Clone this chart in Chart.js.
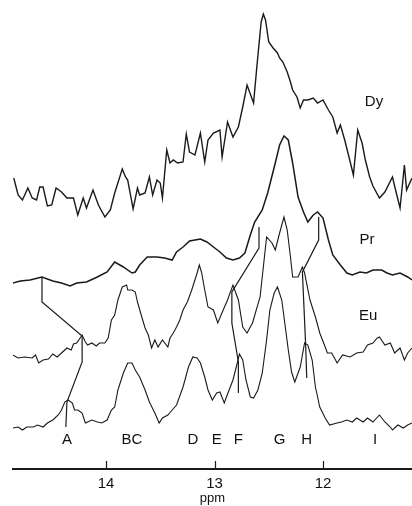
<!DOCTYPE html>
<html>
<head>
<meta charset="utf-8">
<script src="https://cdn.jsdelivr.net/npm/chart.js@4.4.1/dist/chart.umd.min.js"></script>
<style>
  html, body { margin: 0; padding: 0; background: #fff; }
  #wrap { width: 412px; height: 506px; }
</style>
</head>
<body>
<div id="wrap"><canvas id="nmr"></canvas></div>
<script>
// Spectra: [ppm, intensity] (intensity includes the stacking offset)
const dySpectrum = [[14.85,291],[14.81,274],[14.77,269],[14.72,281],[14.68,271],[14.64,269],[14.61,282],[14.58,282],[14.54,263],[14.50,264],[14.46,281],[14.41,277],[14.36,271],[14.30,271],[14.26,254],[14.21,271],[14.18,261],[14.12,279],[14.07,264],[14.01,252],[13.96,259],[13.92,276],[13.85,300],[13.82,292],[13.80,289],[13.75,260],[13.71,281],[13.69,274],[13.64,276],[13.60,292],[13.57,274],[13.53,289],[13.50,286],[13.48,271],[13.44,319],[13.41,306],[13.38,309],[13.34,306],[13.29,307],[13.26,335],[13.23,317],[13.18,314],[13.13,336],[13.09,307],[13.06,329],[13.01,336],[12.95,339],[12.93,312],[12.88,347],[12.83,332],[12.78,342],[12.74,362],[12.70,384],[12.65,369],[12.64,366],[12.61,402],[12.57,447],[12.55,455],[12.53,449],[12.50,427],[12.46,421],[12.42,416],[12.40,411],[12.37,407],[12.33,397],[12.30,387],[12.28,379],[12.24,372],[12.21,361],[12.18,369],[12.14,369],[12.09,371],[12.05,366],[12.00,369],[11.95,359],[11.91,352],[11.87,336],[11.84,344],[11.80,329],[11.77,316],[11.72,294],[11.68,339],[11.64,326],[11.61,309],[11.57,292],[11.54,283],[11.48,271],[11.43,277],[11.36,292],[11.32,274],[11.29,261],[11.25,304],[11.23,279],[11.18,291]];

const prSpectrum = [[14.86,186],[14.79,188],[14.70,189],[14.59,192],[14.49,188],[14.41,186],[14.33,183],[14.27,186],[14.18,187],[14.08,192],[13.99,197],[13.92,207],[13.84,202],[13.76,196],[13.73,197],[13.69,204],[13.62,212],[13.53,212],[13.46,211],[13.39,209],[13.35,217],[13.29,222],[13.23,228],[13.13,230],[13.07,227],[13.01,222],[12.95,217],[12.89,211],[12.83,209],[12.77,211],[12.72,216],[12.67,234],[12.63,247],[12.56,259],[12.51,276],[12.44,306],[12.40,324],[12.36,333],[12.32,329],[12.28,306],[12.23,272],[12.18,257],[12.14,247],[12.09,254],[12.05,257],[12.00,251],[11.95,229],[11.91,214],[11.84,204],[11.78,196],[11.73,194],[11.66,197],[11.60,196],[11.54,199],[11.46,199],[11.41,196],[11.36,194],[11.29,196],[11.22,192],[11.18,189]];

const euSpectrum = [[14.86,114],[14.81,111],[14.75,112],[14.68,111],[14.65,114],[14.62,106],[14.58,109],[14.53,110],[14.49,115],[14.45,112],[14.41,116],[14.36,121],[14.32,119],[14.30,125],[14.27,126],[14.22,134],[14.19,127],[14.17,124],[14.13,126],[14.09,123],[14.06,126],[14.01,126],[13.98,131],[13.95,149],[13.92,154],[13.89,169],[13.85,182],[13.81,184],[13.80,179],[13.76,179],[13.73,177],[13.71,167],[13.67,152],[13.64,141],[13.61,134],[13.58,121],[13.55,129],[13.52,122],[13.48,129],[13.43,122],[13.41,131],[13.38,136],[13.35,142],[13.32,149],[13.29,159],[13.25,167],[13.21,179],[13.16,196],[13.14,204],[13.12,197],[13.09,179],[13.06,162],[13.01,159],[12.97,146],[12.92,159],[12.88,169],[12.83,184],[12.78,169],[12.74,142],[12.70,136],[12.65,146],[12.58,172],[12.55,202],[12.52,232],[12.47,226],[12.44,219],[12.40,236],[12.36,252],[12.33,239],[12.30,212],[12.28,192],[12.23,192],[12.19,202],[12.17,196],[12.12,169],[12.07,152],[12.03,136],[11.98,122],[11.96,116],[11.92,116],[11.87,106],[11.82,114],[11.75,112],[11.69,116],[11.63,117],[11.59,124],[11.54,126],[11.50,131],[11.48,132],[11.43,124],[11.38,126],[11.34,116],[11.29,121],[11.25,109],[11.22,116],[11.18,121]];

const refSpectrum = [[14.86,41],[14.81,42],[14.77,39],[14.73,42],[14.67,42],[14.63,44],[14.58,42],[14.54,46],[14.49,49],[14.44,54],[14.41,59],[14.38,67],[14.35,69],[14.31,66],[14.29,59],[14.26,59],[14.22,56],[14.19,46],[14.17,47],[14.13,49],[14.08,47],[14.04,46],[13.99,49],[13.95,59],[13.92,62],[13.89,79],[13.84,96],[13.80,106],[13.76,106],[13.73,99],[13.69,92],[13.64,79],[13.60,67],[13.55,56],[13.51,46],[13.48,51],[13.43,54],[13.39,59],[13.35,64],[13.29,82],[13.24,102],[13.20,112],[13.16,111],[13.13,106],[13.09,92],[13.06,79],[13.02,69],[12.98,76],[12.95,77],[12.91,66],[12.89,72],[12.83,89],[12.79,106],[12.77,115],[12.74,109],[12.71,89],[12.67,72],[12.64,71],[12.60,79],[12.56,96],[12.52,129],[12.49,159],[12.45,176],[12.42,182],[12.38,169],[12.35,144],[12.32,119],[12.29,97],[12.26,87],[12.21,102],[12.17,126],[12.14,124],[12.10,109],[12.07,82],[12.03,62],[11.98,51],[11.94,44],[11.87,46],[11.83,47],[11.78,49],[11.73,47],[11.69,51],[11.63,47],[11.59,51],[11.54,47],[11.48,54],[11.43,47],[11.38,42],[11.36,39],[11.31,44],[11.26,41],[11.22,44],[11.18,46]];

// Correlation lines joining the same resonance across spectra
const linkA = [[14.59,192],[14.59,167],[14.22,133],[14.22,107],[14.36,67],[14.37,42]];
const linkF = [[12.59,242],[12.59,221],[12.84,177],[12.84,146],[12.78,107],[12.78,76]];
const linkH = [[12.04,252],[12.04,229],[12.19,197],[12.16,124],[12.15,91]];

// Axis ticks
const tickValues = [14, 13, 12];

// Text labels: [text, ppm, intensity]
const traceLabels = [["Dy", 11.53, 367], ["Pr", 11.595, 229], ["Eu", 11.585, 153]];
const peakLabels = [["A", 14.36, 29], ["BC", 13.76, 29], ["D", 13.20, 29], ["E", 12.98, 29], ["F", 12.78, 29], ["G", 12.40, 29], ["H", 12.15, 29], ["I", 11.52, 29]];

const toXY = arr => arr.map(p => ({ x: p[0], y: p[1] }));

function trace(label, arr, width) {
  return {
    label: label,
    data: toXY(arr),
    showLine: true,
    borderColor: "#1a1a1a",
    borderWidth: width,
    pointRadius: 0,
    tension: 0,
    fill: false
  };
}

// Draws upward tick marks and the text labels using the chart's scales
const annotate = {
  id: "annotate",
  afterDraw(chart) {
    const ctx = chart.ctx;
    const xs = chart.scales.x;
    const ys = chart.scales.y;
    const bottom = chart.chartArea.bottom;
    ctx.save();
    ctx.strokeStyle = "#1a1a1a";
    ctx.lineWidth = 1.2;
    tickValues.forEach(v => {
      const px = Math.round(xs.getPixelForValue(v)) + 0.5;
      ctx.beginPath();
      ctx.moveTo(px, bottom - 8);
      ctx.lineTo(px, bottom);
      ctx.stroke();
    });
    ctx.fillStyle = "#111";
    ctx.textAlign = "center";
    ctx.textBaseline = "middle";
    ctx.font = "15px 'Liberation Sans', Arial, sans-serif";
    traceLabels.concat(peakLabels).forEach(l => {
      ctx.fillText(l[0], xs.getPixelForValue(l[1]), ys.getPixelForValue(l[2]));
    });
    ctx.restore();
  }
};

const ctx = document.getElementById("nmr").getContext("2d");
new Chart(ctx, {
  type: "scatter",
  data: {
    datasets: [
      trace("Dy", dySpectrum, 1.4),
      trace("Pr", prSpectrum, 1.5),
      trace("Eu", euSpectrum, 1.1),
      trace("reference", refSpectrum, 1.1),
      trace("A", linkA, 1.2),
      trace("F", linkF, 1.2),
      trace("H", linkH, 1.2)
    ]
  },
  options: {
    responsive: true,
    maintainAspectRatio: false,
    animation: false,
    layout: { padding: { left: 13, right: 0, top: 0, bottom: 0 } },
    plugins: {
      legend: { display: false },
      tooltip: { enabled: false }
    },
    scales: {
      x: {
        type: "linear",
        reverse: true,
        min: 11.18,
        max: 14.857,
        afterBuildTicks: scale => { scale.ticks = tickValues.map(v => ({ value: v })); },
        afterFit: scale => { scale.height = 37; },
        grid: { display: false, drawTicks: false },
        border: { display: true, color: "#1a1a1a", width: 2 },
        ticks: {
          color: "#111",
          padding: 6,
          maxRotation: 0,
          font: { family: "'Liberation Sans', Arial, sans-serif", size: 15 }
        },
        title: {
          display: true,
          text: "ppm",
          color: "#111",
          padding: { top: 0, bottom: 0 },
          font: { family: "'Liberation Sans', Arial, sans-serif", size: 13 }
        }
      },
      y: {
        display: false,
        min: 0,
        max: 469
      }
    }
  },
  plugins: [annotate]
});
</script>
</body>
</html>
